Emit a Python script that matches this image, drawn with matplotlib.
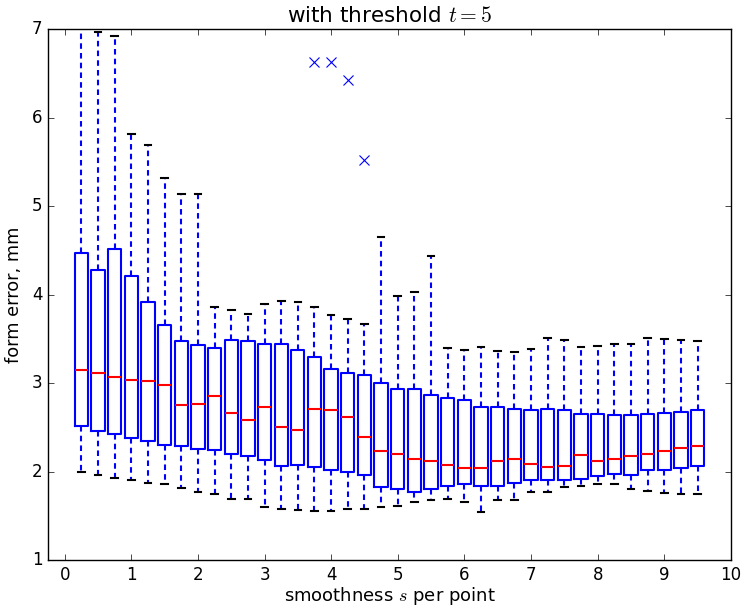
import matplotlib
matplotlib.use("Agg")
import matplotlib.pyplot as plt

plt.style.use('classic')
plt.rcParams['mathtext.fontset'] = 'cm'
plt.rcParams['font.family'] = ['DejaVu Sans']

positions = [0.25 * k for k in range(1, 39)]
q1 = [2.51, 2.46, 2.42, 2.38, 2.34, 2.30, 2.29, 2.25, 2.24, 2.20,
      2.18, 2.13, 2.06, 2.07, 2.05, 2.02, 1.99, 1.96, 1.83, 1.80,
      1.77, 1.80, 1.84, 1.86, 1.84, 1.84, 1.87, 1.90, 1.90, 1.90,
      1.92, 1.95, 1.97, 1.96, 2.02, 2.02, 2.04, 2.06]
med = [3.15, 3.11, 3.07, 3.03, 3.02, 2.98, 2.75, 2.76, 2.85, 2.66,
       2.58, 2.73, 2.50, 2.47, 2.71, 2.69, 2.62, 2.39, 2.23, 2.20,
       2.14, 2.12, 2.07, 2.04, 2.04, 2.12, 2.14, 2.09, 2.05, 2.06,
       2.19, 2.12, 2.14, 2.18, 2.20, 2.23, 2.27, 2.29]
q3 = [4.47, 4.28, 4.51, 4.21, 3.91, 3.66, 3.48, 3.43, 3.39, 3.49,
      3.47, 3.44, 3.44, 3.37, 3.29, 3.16, 3.11, 3.09, 3.00, 2.93,
      2.93, 2.86, 2.83, 2.81, 2.73, 2.73, 2.71, 2.69, 2.71, 2.70,
      2.65, 2.65, 2.64, 2.64, 2.65, 2.66, 2.67, 2.69]
whislo = [1.99, 1.96, 1.93, 1.90, 1.87, 1.86, 1.81, 1.77, 1.75, 1.69,
          1.69, 1.60, 1.58, 1.57, 1.55, 1.55, 1.58, 1.58, 1.60, 1.61,
          1.66, 1.68, 1.69, 1.65, 1.54, 1.68, 1.68, 1.77, 1.77, 1.83,
          1.84, 1.86, 1.86, 1.80, 1.78, 1.76, 1.75, 1.75]
whishi = [7.60, 6.97, 6.92, 5.81, 5.69, 5.32, 5.14, 5.14, 3.86, 3.82,
          3.78, 3.89, 3.93, 3.91, 3.86, 3.77, 3.72, 3.67, 4.65, 3.98,
          4.03, 4.44, 3.39, 3.37, 3.41, 3.36, 3.35, 3.38, 3.51, 3.49,
          3.41, 3.42, 3.44, 3.44, 3.51, 3.50, 3.49, 3.48]
outliers = {15: [6.63], 16: [6.63], 17: [6.42], 18: [5.52]}

stats = []
for i in range(len(positions)):
    stats.append(dict(med=med[i], q1=q1[i], q3=q3[i],
                      whislo=whislo[i], whishi=whishi[i],
                      fliers=outliers.get(i + 1, [])))

fig = plt.figure(figsize=(7.42, 6.06), dpi=100)
fig.patch.set_facecolor('white')
ax = fig.add_axes([0.0647, 0.0759, 0.9203, 0.8762])
ax.bxp(stats, positions=positions, widths=0.2, capwidths=0.1,
       boxprops=dict(color='b', linewidth=1.5),
       medianprops=dict(color='r', linewidth=1.5),
       whiskerprops=dict(color='b', linestyle='--', linewidth=1.5, dashes=(4, 3)),
       capprops=dict(color='k', linewidth=1.5),
       flierprops=dict(marker='x', markeredgecolor='b', markerfacecolor='none',
                       markersize=7, markeredgewidth=0.8, linestyle='none'),
       manage_ticks=False)

ax.set_xlim(-0.25, 10)
ax.set_ylim(1, 7)
ax.set_xticks(range(0, 11))
ax.set_yticks(range(1, 8))
ax.tick_params(labelsize=12)
ax.set_title('with threshold $t=5$', fontsize=15.5)
ax.set_xlabel('smoothness $s$ per point', fontsize=13, labelpad=1)
ax.set_ylabel('form error, mm', fontsize=12.8, labelpad=6)

fig.savefig('out.png', dpi=100, facecolor='white')
